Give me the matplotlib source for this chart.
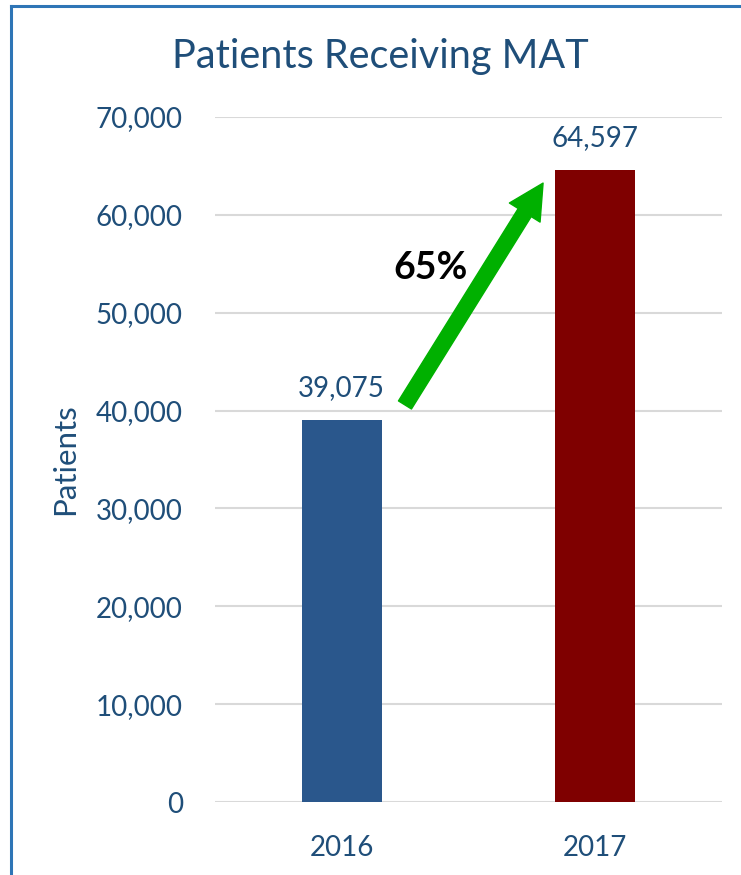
import matplotlib.pyplot as plt
import numpy as np
from matplotlib.patches import FancyArrowPatch, ArrowStyle
from matplotlib.lines import Line2D

plt.rcParams['font.family'] = ['Lato', 'DejaVu Sans']

# data
years = ['2016', '2017']
patients = [39075, 64597]
growth_label = '65%'
yticks = np.arange(0, 70001, 10000)

text_col = '#1F4E79'
bar_cols = ['#2A578C', '#7F0000']

fig = plt.figure(figsize=(7.41, 8.75), dpi=100)
ax = fig.add_axes([0.290, 0.0834, 0.684, 0.7829])

x = np.arange(len(years))
ax.bar(x, patients, width=0.316, color=bar_cols, zorder=3)
ax.set_xlim(-0.5, 1.5)
ax.set_ylim(0, 70000)
ax.set_yticks(yticks)
ax.set_yticklabels([f'{v:,}' for v in yticks])
ax.set_xticks(x)
ax.set_xticklabels(years)
ax.tick_params(axis='both', length=0, labelsize=20, labelcolor=text_col)
ax.tick_params(axis='y', pad=23)
ax.tick_params(axis='x', pad=24)
ax.grid(axis='y', color='#D9D9D9', linewidth=1.5, zorder=0)
for s in ax.spines.values():
    s.set_visible(False)
ax.set_ylabel('Patients', fontsize=22.5, color=text_col, labelpad=12)

# value labels
for xi, v in zip(x, patients):
    ax.annotate(f'{v:,}', (xi, v), xytext=(0, 23), textcoords='offset points',
                ha='center', va='center', fontsize=20, color=text_col)

# growth arrow between bars
tail = (x[0] + 0.25, patients[0] + 1500)
head = (x[1] - 0.205, patients[1] - 1350)
arr = FancyArrowPatch(tail, head,
                      arrowstyle=ArrowStyle.Simple(head_length=25, head_width=26, tail_width=11),
                      mutation_scale=1, color='#00B000', zorder=5, shrinkA=0, shrinkB=0)
ax.add_patch(arr)
ax.text(0.35, 54600, growth_label, ha='center', va='center', fontsize=27,
        fontweight='bold', color='black')

fig.text(0.514, 0.935, 'Patients Receiving MAT', ha='center', va='center',
         fontsize=28.5, color=text_col)

# slide border (left and top edges)
fig.add_artist(Line2D([11 / 741, 11 / 741], [0, 1 - 6 / 875], color='#2E75B6', linewidth=2.2))
fig.add_artist(Line2D([11 / 741, 1], [1 - 6 / 875, 1 - 6 / 875], color='#2E75B6', linewidth=2.2))

fig.savefig('out.png', dpi=100)
